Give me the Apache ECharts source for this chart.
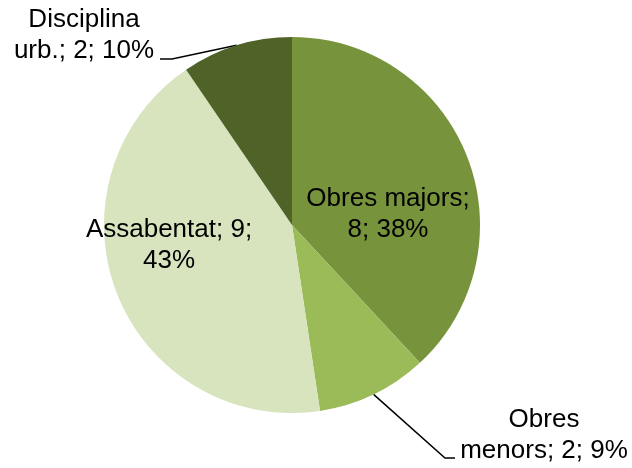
<!DOCTYPE html>
<html>
<head>
<meta charset="utf-8">
<script src="https://cdn.jsdelivr.net/npm/echarts@6/dist/echarts.min.js"></script>
<style>
    html, body { margin: 0; padding: 0; background: #fff; }
    #chart { width: 632px; height: 468px; }
</style>
</head>
<body>
<div id="chart"></div>
<script>
// dades del gràfic
var categories = ['Obres majors', 'Obres menors', 'Assabentat', 'Disciplina urb.'];
var values = [8, 2, 9, 2];
var pctLabels = ['38%', '9%', '43%', '10%'];

// colors de les porcions
var colors = ['#77933C', '#9BBB59', '#D7E4BD', '#4F6228'];

// posicio de cada etiqueta (centre del bloc de text) i paraules a la primera linia
var labelSpots = [
    { x: 388, y: 214, words: 2, inside: true },
    { x: 544, y: 435, words: 1, tail: [-89, 23, -10] },
    { x: 169, y: 245, words: 2, inside: true },
    { x: 84, y: 35, words: 1, tail: [76, 24, 12] }
];

var pieData = [];
for (var i = 0; i < categories.length; i++) {
    var spot = labelSpots[i];
    pieData.push({
        name: categories[i],
        value: values[i],
        itemStyle: { color: colors[i] },
        label: { position: spot.inside ? 'inside' : 'outside' },
        labelLine: { show: !spot.inside }
    });
}

var myChart = echarts.init(document.getElementById('chart'), null, { renderer: 'canvas' });

var option = {
    animation: false,
    backgroundColor: '#ffffff',
    series: [{
        type: 'pie',
        center: [292, 225],
        radius: [0, 188],
        startAngle: 90,
        clockwise: true,
        avoidLabelOverlap: false,
        itemStyle: { borderWidth: 0 },
        emphasis: { disabled: true },
        label: {
            show: true,
            color: '#000',
            fontFamily: 'Liberation Sans, Arial, sans-serif',
            fontSize: 26,
            lineHeight: 31,
            align: 'center',
            formatter: function (p) {
                var words = (p.name + '; ' + p.value + '; ' + pctLabels[p.dataIndex]).split(' ');
                var n = labelSpots[p.dataIndex].words;
                return words.slice(0, n).join(' ') + '\n' + words.slice(n).join(' ');
            }
        },
        labelLine: {
            length: 10,
            length2: 10,
            lineStyle: { color: '#000', width: 1.5 }
        },
        labelLayout: function (params) {
            var spot = labelSpots[params.dataIndex];
            var out = {
                x: spot.x,
                y: spot.y,
                align: 'center',
                verticalAlign: 'middle'
            };
            if (spot.tail && params.labelLinePoints && params.labelLinePoints.length) {
                var p0 = params.labelLinePoints[0];
                var end = [spot.x + spot.tail[0], spot.y + spot.tail[1]];
                var bend = [end[0] + spot.tail[2], end[1]];
                out.labelLinePoints = [p0, bend, end];
            }
            return out;
        },
        data: pieData
    }]
};

myChart.setOption(option);
</script>
</body>
</html>
